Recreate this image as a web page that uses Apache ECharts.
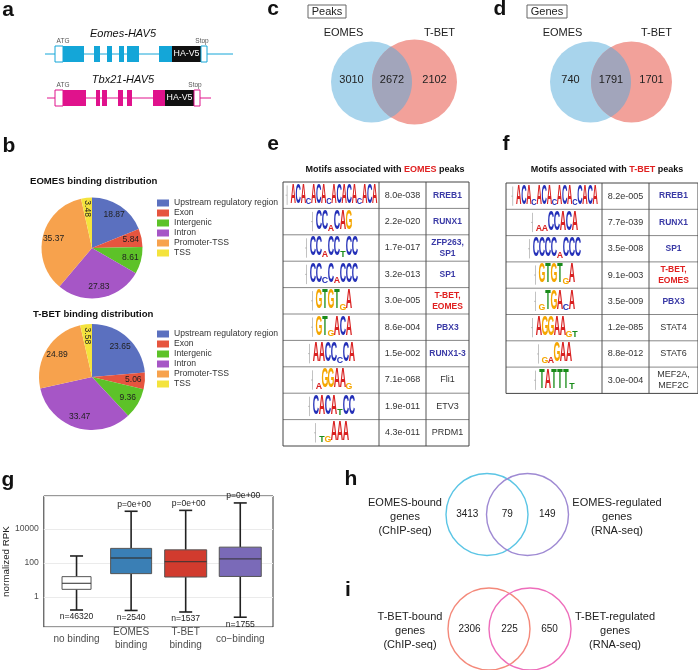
<!DOCTYPE html>
<html>
<head>
<meta charset="utf-8">
<script src="https://cdn.jsdelivr.net/npm/echarts@6/dist/echarts.min.js"></script>
<style>
  html, body { margin: 0; padding: 0; background: #fff; }
  #main { width: 698px; height: 670px; }
</style>
</head>
<body>
<div id="main"></div>
<script>
// b: binding distribution (%)
const regionNames = ['Upstream regulatory region', 'Exon', 'Intergenic', 'Intron', 'Promoter-TSS', 'TSS']
const eomesRegionPct = [18.87, 5.84, 8.61, 27.83, 35.37, 3.48]
const tbetRegionPct = [23.65, 5.06, 9.36, 33.47, 24.89, 3.58]

// c, d: overlaps [EOMES only, both, T-BET only]
const peakOverlap = [3010, 2672, 2102]
const geneOverlap = [740, 1791, 1701]

// e, f: motifs (upper case = strong position, lower case = weak position)
const eomesMotifs = ['ACAcACAcACACAcACA', 'CCaCAG', 'CCaCCtCC', 'CCcCaCCC', 'GTGTgA', 'GTgACA', 'AACCcCA', 'aGGAAg', 'CACAtCC', 'tgAAA']
const eomesPvals = ['8.0e-038', '2.2e-020', '1.7e-017', '3.2e-013', '3.0e-005', '8.6e-004', '1.5e-002', '7.1e-068', '1.9e-011', '4.3e-011']
const eomesTFs = ['RREB1', 'RUNX1', 'ZFP263,\nSP1', 'SP1', 'T-BET,\nEOMES', 'PBX3', 'RUNX1-3', 'Fli1', 'ETV3', 'PRDM1']
const eomesTFKind = ['m', 'm', 'm', 'm', 't', 'm', 'm', 'o', 'o', 'o']
const tbetMotifs = ['ACAcACAcACAcCACA', 'aaCCACA', 'CCCCaCCC', 'GTGTgA', 'gTGAcA', 'AGGAAgt', 'gaGAA', 'TATTTt']
const tbetPvals = ['8.2e-005', '7.7e-039', '3.5e-008', '9.1e-003', '3.5e-009', '1.2e-085', '8.8e-012', '3.0e-004']
const tbetTFs = ['RREB1', 'RUNX1', 'SP1', 'T-BET,\nEOMES', 'PBX3', 'STAT4', 'STAT6', 'MEF2A,\nMEF2C']
const tbetTFKind = ['m', 'm', 'm', 't', 'm', 'o', 'o', 'o']

// g: normalized RPK [min, Q1, median, Q3, max]
const boxCategories = ['no binding', 'EOMES\nbinding', 'T-BET\nbinding', 'co\u2212binding']
const boxStats = [
    [0.17, 2.8, 6.3, 15.6, 257],
    [0.16, 23.5, 196, 720, 110000],
    [0.13, 14.8, 120, 590, 124000],
    [0.064, 16, 174, 850, 340000]
]
const boxN = ['n=46320', 'n=2540', 'n=1537', 'n=1755']
const boxP = ['', 'p=0e+00', 'p=0e+00', 'p=0e+00']

// h, i: [bound only, both, regulated only]
const eomesBoundRegulated = [3413, 79, 149]
const tbetBoundRegulated = [2306, 225, 650]

const FONT = 'Liberation Sans, Arial, sans-serif'
const regionColors = ['#5B70BF', '#E6553F', '#5DC228', '#A656C6', '#F7A24D', '#F4E33D']
const letterColors = { A: '#D92121', C: '#2430B8', G: '#F5A600', T: '#1A8C1A' }
const boxColors = ['#FFFFFF', '#3A7FB5', '#D13B2E', '#7A6AB8']
const boxWidths = [29, 41, 42, 42]

let els = []

function txt (x, y, s, size, fill, opts) {
    opts = opts || {}
    els.push({
        type: 'text', x: x, y: y, z: 20,
        style: {
            text: s,
            fill: fill || '#222',
            font: (opts.italic ? 'italic ' : '') + (opts.bold ? 'bold ' : '') + size + 'px ' + FONT,
            textAlign: opts.align || 'center',
            textVerticalAlign: 'middle',
            align: opts.align || 'center',
            verticalAlign: 'middle',
            lineHeight: opts.lineHeight,
            rich: opts.rich
        }
    })
}
function rect (x, y, w, h, fill, stroke, lw, z) {
    els.push({ type: 'rect', z: z || 10, shape: { x: x, y: y, width: w, height: h }, style: { fill: fill, stroke: stroke || null, lineWidth: lw || 1 } })
}
function line (x1, y1, x2, y2, color, lw, z) {
    els.push({ type: 'line', z: z || 11, shape: { x1: x1, y1: y1, x2: x2, y2: y2 }, style: { stroke: color, lineWidth: lw || 1 } })
}
function circle (cx, cy, r, fill, stroke, lw) {
    els.push({ type: 'circle', z: 10, shape: { cx: cx, cy: cy, r: r }, style: { fill: fill || null, stroke: stroke || null, lineWidth: lw || 1 } })
}
// overlap region of two circles on the same row, as a polygon
function lens (x1, x2, y, r1, r2, fill) {
    const d = x2 - x1
    const a = (d * d + r1 * r1 - r2 * r2) / (2 * d)
    const h = Math.sqrt(r1 * r1 - a * a)
    const t1 = Math.atan2(h, a)
    const t2 = Math.atan2(h, d - a)
    const pts = []
    for (let k = 0; k <= 40; k++) {
        const t = -t1 + 2 * t1 * k / 40
        pts.push([x1 + r1 * Math.cos(t), y + r1 * Math.sin(t)])
    }
    for (let k = 0; k <= 40; k++) {
        const t = Math.PI - t2 + 2 * t2 * k / 40
        pts.push([x2 + r2 * Math.cos(t), y + r2 * Math.sin(t)])
    }
    els.push({ type: 'polygon', z: 11, shape: { points: pts }, style: { fill: fill } })
}

// panel letters
txt(8, 10, 'a', 21, '#111', { bold: true })
txt(9, 146, 'b', 21, '#111', { bold: true })
txt(273, 9, 'c', 21, '#111', { bold: true })
txt(500, 9, 'd', 21, '#111', { bold: true })
txt(273, 144, 'e', 21, '#111', { bold: true })
txt(506, 144, 'f', 21, '#111', { bold: true })
txt(8, 480, 'g', 21, '#111', { bold: true })
txt(351, 479, 'h', 21, '#111', { bold: true })
txt(348, 590, 'i', 21, '#111', { bold: true })

// a: constructs
function construct (title, ty, ly, x0, x1, color, exons, hx, stopX, atgX) {
    txt(123, ty, title, 11, '#111', { italic: true })
    line(x0, ly, x1, ly, color, 1, 9)
    const top = ly - 8
    rect(atgX, top, 8, 16, '#fff', color, 1)
    exons.forEach(function (e) { rect(e[0], top, e[1] - e[0], 16, color) })
    rect(hx[0], top, hx[1] - hx[0], 16, '#111')
    txt((hx[0] + hx[1]) / 2, ly, 'HA-V5', 8.8, '#fff')
    rect(stopX, top, 6, 16, '#fff', color, 1)
    txt(atgX + 8, top - 5, 'ATG', 6.5, '#555')
    txt(stopX + 1, top - 5, 'Stop', 6.5, '#555')
}
construct('Eomes-HAV5', 34, 54, 45, 233, '#14A6D8',
    [[63, 84], [94, 100], [107, 112], [119, 124], [127, 139], [159, 172]], [172, 201], 201, 55)
construct('Tbx21-HAV5', 80, 98, 47, 211, '#E0128C',
    [[63, 86], [96, 100], [102, 107], [118, 123], [127, 132], [153, 165]], [165, 194], 194, 55)

// b: titles
txt(30, 181, 'EOMES binding distribution', 9.6, '#111', { bold: true, align: 'left' })
txt(33, 314, 'T-BET binding distribution', 9.6, '#111', { bold: true, align: 'left' })

// c, d: filled venns
function filledVenn (x1, x2, y, r1, r2, counts, labelL, labelR, boxX, boxW, boxText) {
    rect(boxX, 5, boxW, 13, '#fff', '#666', 1)
    txt(boxX + boxW / 2, 11.5, boxText, 11, '#222')
    txt(x1 - 28, 33, labelL, 11, '#222')
    txt(x2 + 25, 33, labelR, 11, '#222')
    circle(x1, y, r1, '#A8D4EC')
    circle(x2, y, r2, '#F2A19A')
    lens(x1, x2, y, r1, r2, '#A2A5BB')
    const mid = (x1 + r1 + x2 - r2) / 2
    txt((x1 - r1 + x2 - r2) / 2, y - 2, String(counts[0]), 11, '#222')
    txt(mid, y - 2, String(counts[1]), 11, '#222')
    txt((x1 + r1 + x2 + r2) / 2, y - 2, String(counts[2]), 11, '#222')
}
filledVenn(371.5, 414.5, 82, 40.5, 42.5, peakOverlap, 'EOMES', 'T-BET', 308, 38, 'Peaks')
filledVenn(590.5, 631.5, 82, 40.5, 40.5, geneOverlap, 'EOMES', 'T-BET', 527, 40, 'Genes')

// e, f: motif tables
function logo (cx, top, h, motif) {
    const n = motif.length
    const cw = n > 12 ? 5.1 : 6
    const x0 = cx - n * cw / 2
    const bottom = top + h
    line(x0 - 3.5, top, x0 - 3.5, bottom, '#999', 0.6)
    line(x0 - 5, (top + bottom) / 2, x0 - 3.5, (top + bottom) / 2, '#999', 0.6)
    for (let k = 0; k < n; k++) {
        const ch = motif[k]
        const up = ch === ch.toUpperCase()
        const L = ch.toUpperCase()
        const lh = up ? h : 6
        els.push({
            type: 'text', z: 20,
            x: x0 + (k + 0.5) * cw,
            y: bottom - lh / 2,
            scaleX: cw / 13.6,
            scaleY: lh / 14.3,
            style: {
                text: L, fill: letterColors[L], font: 'bold 20px ' + FONT,
                textAlign: 'center', textVerticalAlign: 'middle', align: 'center', verticalAlign: 'middle'
            }
        })
    }
}
function motifTable (hl, titleX, x0, y0, colW, rowH, motifs, pvals, tfs, kinds) {
    txt(titleX, 170, '{k|Motifs associated with }{r|' + hl + '}{k| peaks}', 9, '#111', {
        rich: {
            k: { fontWeight: 'bold', fontSize: 9, fontFamily: FONT, fill: '#111', color: '#111' },
            r: { fontWeight: 'bold', fontSize: 9, fontFamily: FONT, fill: '#E02020', color: '#E02020' }
        }
    })
    const w = colW[0] + colW[1] + colW[2]
    const n = motifs.length
    rect(x0, y0, w, n * rowH, '#fff')
    for (let i = 1; i < n; i++) line(x0, y0 + i * rowH, x0 + w, y0 + i * rowH, '#888', 1)
    line(x0 + colW[0], y0, x0 + colW[0], y0 + n * rowH, '#555', 1)
    line(x0 + colW[0] + colW[1], y0, x0 + colW[0] + colW[1], y0 + n * rowH, '#555', 1)
    els.push({ type: 'rect', z: 12, shape: { x: x0, y: y0, width: w, height: n * rowH }, style: { fill: null, stroke: '#444', lineWidth: 1 } })
    for (let i = 0; i < n; i++) {
        const cy = y0 + (i + 0.5) * rowH
        logo(x0 + colW[0] / 2 + 3, y0 + i * rowH + 3.5, rowH - 7, motifs[i])
        txt(x0 + colW[0] + colW[1] / 2, cy, pvals[i], 9, '#333')
        const kind = kinds[i]
        txt(x0 + colW[0] + colW[1] + colW[2] / 2, cy, tfs[i], kind === 'o' ? 9 : 8.5,
            kind === 'm' ? '#3A3AA6' : (kind === 't' ? '#E02020' : '#333'),
            { bold: kind !== 'o', lineHeight: 11 })
    }
}
motifTable('EOMES', 385, 283, 182, [96, 47, 43], 26.4, eomesMotifs, eomesPvals, eomesTFs, eomesTFKind)
motifTable('T-BET', 607, 506, 183, [96, 47, 49], 26.3, tbetMotifs, tbetPvals, tbetTFs, tbetTFKind)

// h, i: outline venns
function outlineVenn (x1, x2, y, r, c1, c2, counts, labelL, labelR, lx, rx) {
    circle(x1, y, r, null, c1, 1.4)
    circle(x2, y, r, null, c2, 1.4)
    txt((x1 - r + x2 - r) / 2 + 1, y, String(counts[0]), 10, '#222')
    txt((x1 + x2) / 2, y, String(counts[1]), 10, '#222')
    txt((x1 + r + x2 + r) / 2 - 1, y, String(counts[2]), 10, '#222')
    txt(lx, y + 2, labelL, 11, '#222', { lineHeight: 14 })
    txt(rx, y + 2, labelR, 11, '#222', { lineHeight: 14 })
}
outlineVenn(487, 527.5, 514.5, 41, '#5BC5E5', '#9F8AD3', eomesBoundRegulated,
    'EOMES-bound\ngenes\n(ChIP-seq)', 'EOMES-regulated\ngenes\n(RNA-seq)', 405, 617)
outlineVenn(489, 530, 629, 41, '#F4897A', '#EE6DBB', tbetBoundRegulated,
    'T-BET-bound\ngenes\n(ChIP-seq)', 'T-BET-regulated\ngenes\n(RNA-seq)', 410, 615)

function pieData (vals, withRotate) {
    return vals.map(function (v, i) {
        const item = { name: regionNames[i], value: v, itemStyle: { color: regionColors[i] } }
        if (withRotate && regionNames[i] === 'TSS') item.label = { rotate: -90 }
        return item
    })
}
function pieSeries (vals, cy, r) {
    return {
        type: 'pie', center: [92, cy], radius: r, startAngle: 90, clockwise: true, silent: true,
        label: { show: false }, labelLine: { show: false },
        data: pieData(vals, false)
    }
}
// transparent ring carrying the slice labels a bit further out than mid-radius
function pieLabels (vals, cy, r) {
    return {
        type: 'pie', center: [92, cy], radius: [r * 0.45, r], startAngle: 90, clockwise: true, silent: true,
        label: { show: true, position: 'inside', formatter: '{c}', fontSize: 8.5, color: '#222', fontFamily: FONT },
        labelLine: { show: false },
        data: pieData(vals, true).map(function (d) { d.itemStyle = { color: 'rgba(0,0,0,0)' }; return d })
    }
}
function pieLegend (top) {
    return {
        orient: 'vertical', left: 157, top: top, padding: 0, itemGap: 0,
        itemWidth: 12, itemHeight: 7, icon: 'rect', selectedMode: false,
        data: regionNames,
        textStyle: { fontSize: 8.6, color: '#333', lineHeight: 10, fontFamily: FONT }
    }
}

const option = {
    animation: false,
    backgroundColor: '#fff',
    textStyle: { fontFamily: FONT },
    legend: [pieLegend(198), pieLegend(329)],
    grid: { left: 42, top: 496, width: 231, height: 131, show: true, borderColor: '#333', borderWidth: 1, backgroundColor: '#fff' },
    xAxis: {
        type: 'value', min: -0.6, max: 3.6, splitNumber: 4,
        axisLine: { show: false }, axisTick: { show: false }, splitLine: { show: false },
        axisLabel: {
            fontSize: 10, color: '#4D4D4D', lineHeight: 13, margin: 12, verticalAlign: 'middle',
            formatter: function (v) {
                const k = Math.round(v)
                return Math.abs(v - k) < 1e-6 && boxCategories[k] ? boxCategories[k] : ''
            }
        }
    },
    yAxis: {
        type: 'log', logBase: 100, min: 0.017, max: 870000,
        name: 'normalized RPK', nameLocation: 'middle', nameGap: 32, nameRotate: 90,
        nameTextStyle: { fontSize: 9.8, color: '#222' },
        axisLine: { show: false }, axisTick: { show: false },
        splitLine: { show: true, lineStyle: { color: '#EBEBEB', width: 1 } },
        axisLabel: {
            fontSize: 8.6, color: '#4D4D4D', margin: 5,
            formatter: function (v) {
                const e = Math.log10(v) / 2
                return Math.abs(e - Math.round(e)) < 1e-6 ? String(Math.round(v)) : ''
            }
        }
    },
    series: [
        pieSeries(eomesRegionPct, 248, 50.5),
        pieSeries(tbetRegionPct, 377, 53),
        pieLabels(eomesRegionPct, 248, 50.5),
        pieLabels(tbetRegionPct, 377, 53),
        {
            type: 'custom', clip: false, silent: true,
            encode: { x: 0, y: [1, 2, 3, 4, 5] },
            data: boxStats.map(function (s, i) { return [i].concat(s) }),
            renderItem: function (params, api) {
                const i = api.value(0)
                const xc = api.coord([i, 1])[0]
                const ys = [1, 2, 3, 4, 5].map(function (k) { return api.coord([i, api.value(k)])[1] })
                const bw = boxWidths[i] / 2
                const cap = 6.5
                const wl = { stroke: '#222', lineWidth: 1.6 }
                const ts = { font: '8.6px ' + FONT, fill: '#222', align: 'center', verticalAlign: 'middle', textAlign: 'center', textVerticalAlign: 'middle' }
                return {
                    type: 'group',
                    children: [
                        { type: 'line', shape: { x1: xc, y1: ys[4], x2: xc, y2: ys[3] }, style: wl },
                        { type: 'line', shape: { x1: xc, y1: ys[1], x2: xc, y2: ys[0] }, style: wl },
                        { type: 'line', shape: { x1: xc - cap, y1: ys[4], x2: xc + cap, y2: ys[4] }, style: wl },
                        { type: 'line', shape: { x1: xc - cap, y1: ys[0], x2: xc + cap, y2: ys[0] }, style: wl },
                        { type: 'rect', shape: { x: xc - bw, y: ys[3], width: 2 * bw, height: ys[1] - ys[3] }, style: { fill: boxColors[i], stroke: '#555', lineWidth: 1 } },
                        { type: 'line', shape: { x1: xc - bw, y1: ys[2], x2: xc + bw, y2: ys[2] }, style: { stroke: '#333', lineWidth: 1.3, opacity: 0.8 } },
                        { type: 'text', x: xc + 3, y: ys[4] - 7, style: Object.assign({ text: boxP[i] }, ts) },
                        { type: 'text', x: xc, y: ys[0] + 7, style: Object.assign({ text: boxN[i] }, ts) }
                    ]
                }
            }
        }
    ],
    graphic: { elements: els }
}

const chart = echarts.init(document.getElementById('main'), null, { renderer: 'canvas' })
chart.setOption(option)
</script>
</body>
</html>
